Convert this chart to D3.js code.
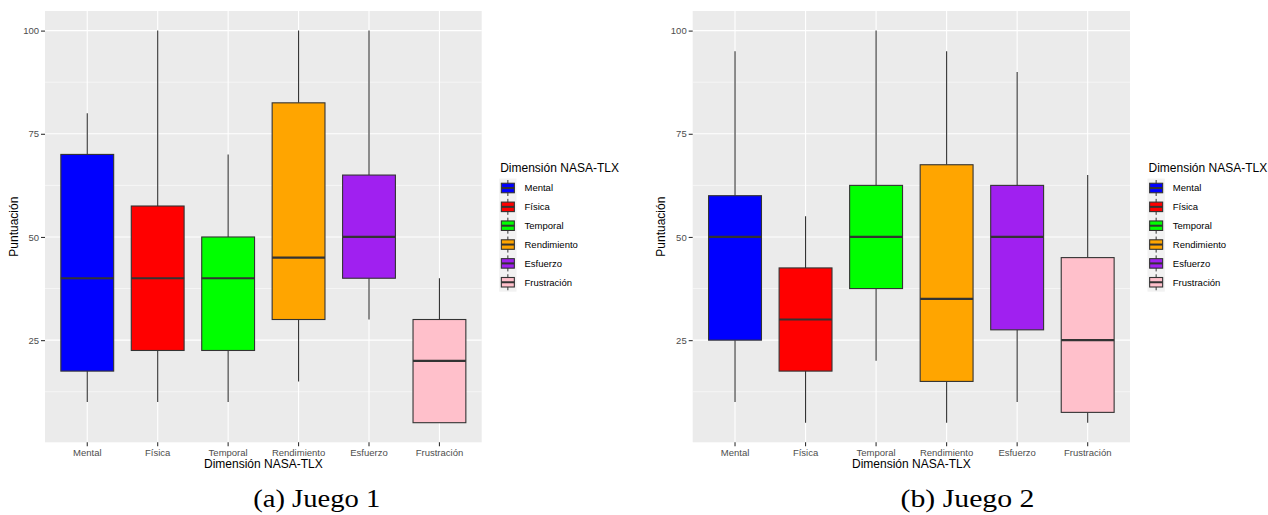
<!DOCTYPE html>
<html>
<head>
<meta charset="utf-8">
<script src="https://cdn.jsdelivr.net/npm/d3@7/dist/d3.min.js"></script>
<style>
  html, body { margin: 0; padding: 0; background: #ffffff; }
  svg { display: block; }
</style>
</head>
<body>
<svg id="chart" width="1268" height="515"></svg>
<script>
// NASA-TLX dimensions (x categories and legend entries)
const categories = ["Mental", "Física", "Temporal", "Rendimiento", "Esfuerzo", "Frustración"];
const fills = ["#0000FF", "#FF0000", "#00FF00", "#FFA500", "#A020F0", "#FFC0CB"];

// Juego 1: five-number summaries per dimension
const juego1Low    = [10, 10, 10, 15, 30, 5];
const juego1Q1     = [17.5, 22.5, 22.5, 30, 40, 5];
const juego1Median = [40, 40, 40, 45, 50, 20];
const juego1Q3     = [70, 57.5, 50, 82.5, 65, 30];
const juego1High   = [80, 100, 70, 100, 100, 40];

// Juego 2: five-number summaries per dimension
const juego2Low    = [10, 5, 20, 5, 10, 5];
const juego2Q1     = [25, 17.5, 37.5, 15, 27.5, 7.5];
const juego2Median = [50, 30, 50, 35, 50, 25];
const juego2Q3     = [60, 42.5, 62.5, 67.5, 62.5, 45];
const juego2High   = [95, 55, 100, 95, 90, 65];

const yTicks = [25, 50, 75, 100];
const yMinor = [12.5, 37.5, 62.5, 87.5];

const axisTitleX = "Dimensión NASA-TLX";
const axisTitleY = "Puntuación";
const legendTitle = "Dimensión NASA-TLX";
const captions = ["(a) Juego 1", "(b) Juego 2"];

const svg = d3.select("#chart");
const sans = "'Liberation Sans', Arial, sans-serif";

function buildRows(low, q1, med, q3, high) {
  return categories.map((c, i) => ({
    cat: c, fill: fills[i],
    low: low[i], q1: q1[i], med: med[i], q3: q3[i], high: high[i]
  }));
}

function drawPanel(layout, rows, caption) {
  const g = svg.append("g");
  const { x0, x1, y0, y1 } = layout;

  const x = d3.scaleBand().domain(categories).range([x0, x1])
    .paddingInner(0).paddingOuter(0.1);
  // data span 5..100 with 5% expansion on each side
  const y = d3.scaleLinear().domain([0.25, 104.75]).range([y1, y0]);
  const cx = c => x(c) + x.bandwidth() / 2;
  const boxW = x.bandwidth() * 0.75;

  // panel background
  g.append("rect").attr("x", x0).attr("y", y0)
    .attr("width", x1 - x0).attr("height", y1 - y0).attr("fill", "#EBEBEB");

  // minor grid
  g.selectAll(".minor").data(yMinor).join("line")
    .attr("x1", x0).attr("x2", x1)
    .attr("y1", d => y(d)).attr("y2", d => y(d))
    .attr("stroke", "#FFFFFF").attr("stroke-width", 0.55);

  // major grid
  g.selectAll(".majorY").data(yTicks).join("line")
    .attr("x1", x0).attr("x2", x1)
    .attr("y1", d => y(d)).attr("y2", d => y(d))
    .attr("stroke", "#FFFFFF").attr("stroke-width", 1.1);
  g.selectAll(".majorX").data(categories).join("line")
    .attr("x1", d => cx(d)).attr("x2", d => cx(d))
    .attr("y1", y0).attr("y2", y1)
    .attr("stroke", "#FFFFFF").attr("stroke-width", 1.1);

  // boxes
  const box = g.selectAll(".box").data(rows).join("g");
  box.append("line")
    .attr("x1", d => cx(d.cat)).attr("x2", d => cx(d.cat))
    .attr("y1", d => y(d.q3)).attr("y2", d => y(d.high))
    .attr("stroke", "#333333").attr("stroke-width", 1.1);
  box.append("line")
    .attr("x1", d => cx(d.cat)).attr("x2", d => cx(d.cat))
    .attr("y1", d => y(d.q1)).attr("y2", d => y(d.low))
    .attr("stroke", "#333333").attr("stroke-width", 1.1);
  box.append("rect")
    .attr("x", d => cx(d.cat) - boxW / 2).attr("width", boxW)
    .attr("y", d => y(d.q3)).attr("height", d => y(d.q1) - y(d.q3))
    .attr("fill", d => d.fill).attr("stroke", "#333333").attr("stroke-width", 1.1);
  box.append("line")
    .attr("x1", d => cx(d.cat) - boxW / 2).attr("x2", d => cx(d.cat) + boxW / 2)
    .attr("y1", d => y(d.med)).attr("y2", d => y(d.med))
    .attr("stroke", "#333333").attr("stroke-width", 2.2);

  // y axis
  const yAxis = d3.axisLeft(y).tickValues(yTicks).tickSize(4).tickPadding(2);
  const ya = g.append("g").attr("transform", `translate(${x0},0)`).call(yAxis);
  ya.select(".domain").remove();
  ya.selectAll(".tick line").attr("stroke", "#333333").attr("stroke-width", 1.1);
  ya.selectAll(".tick text").attr("fill", "#4D4D4D")
    .style("font-family", sans).style("font-size", "9.5px");

  // x axis
  const xAxis = d3.axisBottom(x).tickSize(4).tickPadding(3);
  const xa = g.append("g").attr("transform", `translate(0,${y1})`).call(xAxis);
  xa.select(".domain").remove();
  xa.selectAll(".tick line").attr("stroke", "#333333").attr("stroke-width", 1.1);
  xa.selectAll(".tick text").attr("fill", "#4D4D4D")
    .style("font-family", sans).style("font-size", "9.5px");

  // axis titles
  g.append("text").attr("x", (x0 + x1) / 2).attr("y", y1 + 26)
    .attr("text-anchor", "middle").attr("fill", "#000")
    .style("font-family", sans).style("font-size", "12px").text(axisTitleX);
  g.append("text")
    .attr("transform", `translate(${x0 - 27.5},${(y0 + y1) / 2}) rotate(-90)`)
    .attr("text-anchor", "middle").attr("fill", "#000")
    .style("font-family", sans).style("font-size", "12px").text(axisTitleY);

  // legend
  const lx = x1 + 17.5;
  const keyW = 17.3, rowH = 18.85, firstCy = 188;
  const lg = g.append("g");
  lg.append("text").attr("x", lx + 1).attr("y", 171.5).attr("fill", "#000")
    .style("font-family", sans).style("font-size", "12px").text(legendTitle);
  lg.append("rect").attr("x", lx).attr("y", firstCy - rowH / 2)
    .attr("width", keyW).attr("height", rowH * rows.length).attr("fill", "#F2F2F2");
  const key = lg.selectAll(".key").data(rows).join("g")
    .attr("transform", (d, i) => `translate(${lx},${firstCy + i * rowH})`);
  key.append("line").attr("x1", keyW / 2).attr("x2", keyW / 2)
    .attr("y1", -8).attr("y2", 8).attr("stroke", "#333333").attr("stroke-width", 1);
  key.append("rect").attr("x", keyW / 2 - 6.5).attr("width", 13)
    .attr("y", -4.75).attr("height", 9.5)
    .attr("fill", d => d.fill).attr("stroke", "#333333").attr("stroke-width", 1.1);
  key.append("line").attr("x1", keyW / 2 - 6.5).attr("x2", keyW / 2 + 6.5)
    .attr("y1", 0).attr("y2", 0).attr("stroke", "#333333").attr("stroke-width", 2);
  key.append("text").attr("x", keyW + 8).attr("y", 3.4).attr("fill", "#000")
    .style("font-family", sans).style("font-size", "9.5px").text(d => d.cat);

  // caption
  svg.append("text").attr("x", layout.capX).attr("y", 506.5)
    .attr("text-anchor", "middle").attr("fill", "#000")
    .attr("textLength", layout.capW).attr("lengthAdjust", "spacingAndGlyphs")
    .style("font-family", "'Liberation Serif', 'Times New Roman', serif")
    .style("font-weight", "normal")
    .style("font-size", "25px").text(caption);
}

drawPanel({ x0: 45, x1: 481.7, y0: 11, y1: 442.3, capX: 316.7, capW: 127 },
  buildRows(juego1Low, juego1Q1, juego1Median, juego1Q3, juego1High), captions[0]);
drawPanel({ x0: 692.7, x1: 1130, y0: 11, y1: 442.3, capX: 967.5, capW: 134 },
  buildRows(juego2Low, juego2Q1, juego2Median, juego2Q3, juego2High), captions[1]);
</script>
</body>
</html>
